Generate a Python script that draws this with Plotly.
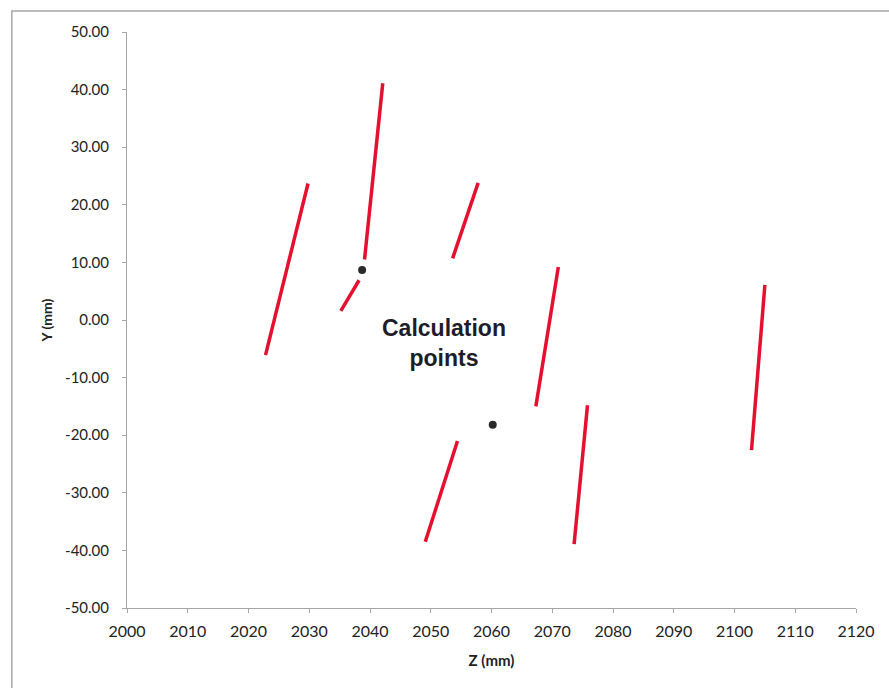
import plotly.graph_objects as go

# Measured segment end points (Z in mm, Y in mm)
seg_z_start = [2022.8, 2039.1, 2035.2, 2053.6, 2067.3, 2049.1, 2073.6, 2102.8]
seg_z_end   = [2029.8, 2042.1, 2038.2, 2057.8, 2071.0, 2054.4, 2075.8, 2105.0]
seg_y_start = [-6.1, 10.5, 1.6, 10.7, -15.0, -38.5, -38.9, -22.6]
seg_y_end   = [23.7, 41.1, 6.9, 23.8, 9.2, -21.0, -14.8, 6.1]

# Calculation points
calc_z = [2038.7, 2060.2]
calc_y = [8.7, -18.2]

x_ticks = list(range(2000, 2121, 10))
y_ticks = list(range(-50, 51, 10))

fig = go.Figure()

for z0, z1, y0, y1 in zip(seg_z_start, seg_z_end, seg_y_start, seg_y_end):
    fig.add_trace(go.Scatter(
        x=[z0, z1], y=[y0, y1], mode="lines",
        line=dict(color="#e5102f", width=3.5),
        showlegend=False, hoverinfo="skip",
    ))

fig.add_trace(go.Scatter(
    x=calc_z, y=calc_y, mode="markers",
    marker=dict(color="#2a2a2a", size=8),
    showlegend=False,
))

fig.add_annotation(
    x=2052.1, y=-4.0, text="<b>Calculation<br>points</b>", showarrow=False,
    font=dict(family="Liberation Sans, Arial", size=23, color="#1c1c2a"),
)

tick_font = dict(family="Lato, Carlito, sans-serif", size=16, color="#222222")

fig.update_xaxes(
    range=[2000, 2120], tickvals=x_ticks, ticktext=[str(v) for v in x_ticks],
    showgrid=False, zeroline=False, showline=True, linecolor="#a6a6a6", linewidth=1,
    ticks="outside", ticklen=4, tickcolor="#a6a6a6", ticklabelstandoff=5,
    tickfont=tick_font,
    title=dict(text="<b>Z (mm)</b>", font=dict(family="Lato, sans-serif", size=15, color="#222222"), standoff=16),
)
fig.update_yaxes(
    range=[-50, 50], tickvals=y_ticks, ticktext=[f"{v:.2f}" for v in y_ticks],
    showgrid=False, zeroline=False, showline=True, linecolor="#a6a6a6", linewidth=1,
    ticks="outside", ticklen=4, tickcolor="#a6a6a6", ticklabelstandoff=10,
    tickfont=dict(family="Lato, Carlito, sans-serif", size=15, color="#222222"),
    title=dict(text="<b>Y (mm)</b>", font=dict(family="Lato, sans-serif", size=14, color="#222222"), standoff=9),
)

# Chart-area frame (left and top edges)
fig.add_shape(type="path", xref="paper", yref="paper",
              path="M -0.158,-0.3 L -0.158,1.0365 L 1.2,1.0365",
              line=dict(color="#a8a8a8", width=1.5))

fig.update_layout(
    width=889, height=688,
    margin=dict(l=127, r=33, t=32, b=80),
    paper_bgcolor="white", plot_bgcolor="white",
)

fig.write_html("out.html")
